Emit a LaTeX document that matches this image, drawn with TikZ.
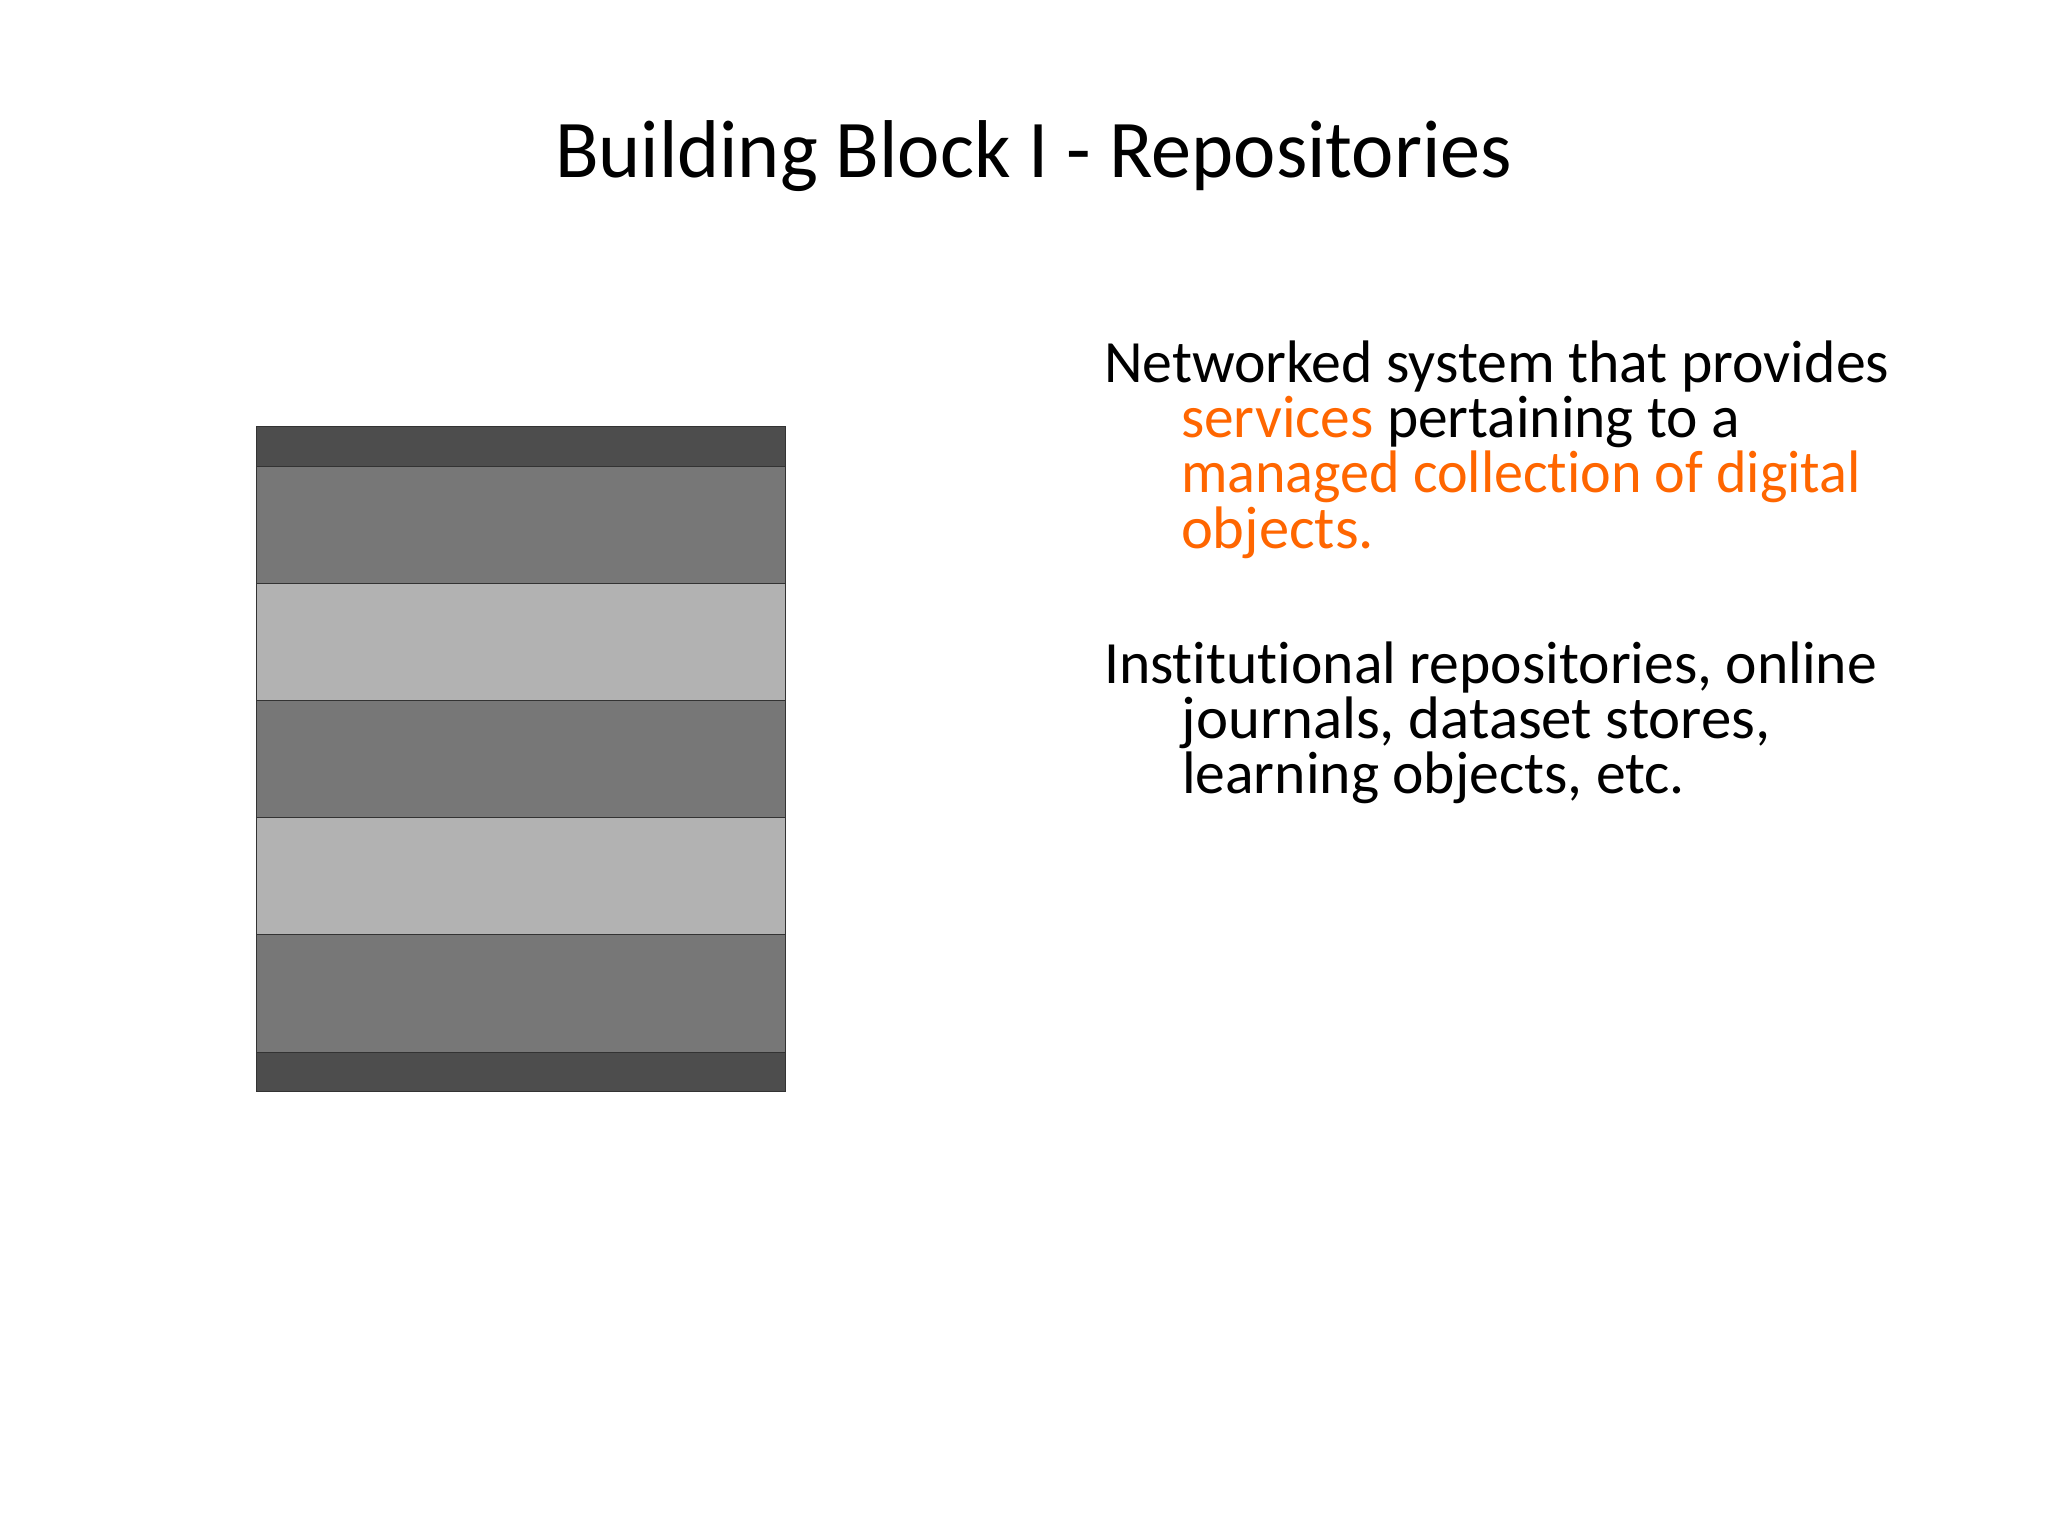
\documentclass[tikz,border=0pt]{standalone}
\usepackage{fontspec}
\usepackage{graphicx}
\setmainfont{Carlito}[RawFeature={-liga;-clig;-dlig}]
\definecolor{bandDark}{HTML}{4D4D4D}
\definecolor{bandMid}{HTML}{777777}
\definecolor{bandLight}{HTML}{B2B2B2}
\definecolor{accent}{HTML}{FF6600}
\definecolor{edge}{HTML}{333333}
\newcommand{\fitline}[2]{\resizebox{#1}{\height}{#2}}
\tikzset{
  band/.style={draw=edge,line width=0.5pt},
  bodyline/.style={anchor=base west,inner sep=0pt,outer sep=0pt,font=\fontsize{30}{36}\selectfont,text=black},
  titleline/.style={anchor=base west,inner sep=0pt,outer sep=0pt,font=\fontsize{41}{48}\selectfont,text=black}
}
\begin{document}
\begin{tikzpicture}[x=0.5pt,y=-0.5pt]
\useasboundingbox (0,0) rectangle (2048,1536);
\fill[white] (0,0) rectangle (2048,1536);
% stack of bands
\draw[band,fill=bandDark]  (256,426.5)  rectangle (785,466);
\draw[band,fill=bandMid]   (256,466)  rectangle (785,583);
\draw[band,fill=bandLight] (256,583)  rectangle (785,700.5);
\draw[band,fill=bandMid]   (256,700.5) rectangle (785,817.5);
\draw[band,fill=bandLight] (256,817.5) rectangle (785,934.5);
\draw[band,fill=bandMid]   (256,934.5) rectangle (785,1052);
\draw[band,fill=bandDark]  (256,1052) rectangle (785,1091.5);
% title
\node[titleline] (title) at (555,177) {\fitline{478.5pt}{Building Block I - Repositories}};
% first paragraph
\node[bodyline] (p1a) at (1104,382) {\fitline{392.5pt}{Networked system that provides}};
\node[bodyline] (p1b) at (1181,437) {\fitline{279.5pt}{\textcolor{accent}{services} pertaining to a}};
\node[bodyline,text=accent] (p1c) at (1181,492) {\fitline{340pt}{managed collection of digital}};
\node[bodyline,text=accent] (p1d) at (1181,548) {\fitline{96.5pt}{objects.}};
% second paragraph
\node[bodyline] (p2a) at (1104,683) {\fitline{386.5pt}{Institutional repositories, online}};
\node[bodyline] (p2b) at (1181.5,738) {\fitline{294.5pt}{journals, dataset stores,}};
\node[bodyline] (p2c) at (1182,793) {\fitline{251.5pt}{learning objects, etc.}};
\end{tikzpicture}
\end{document}
